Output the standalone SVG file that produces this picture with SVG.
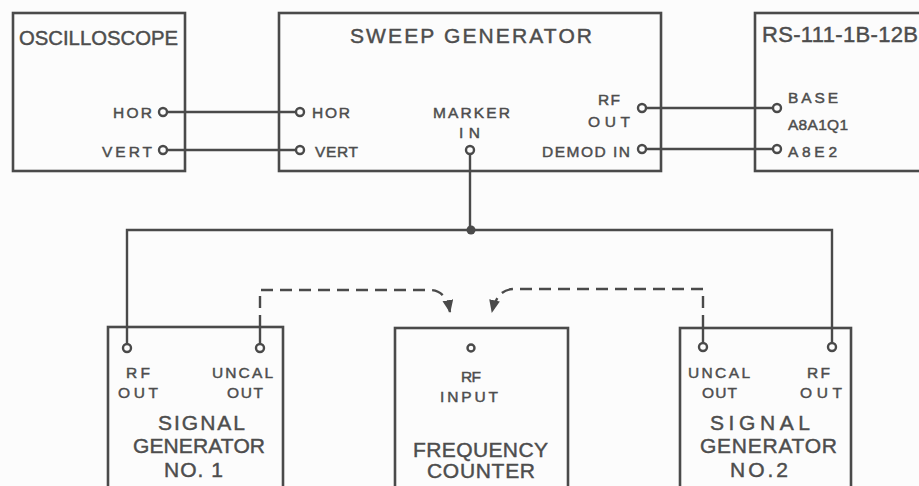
<svg xmlns="http://www.w3.org/2000/svg" width="919" height="486" viewBox="0 0 919 486">
<style>
.box{fill:none;stroke:#4a4a4a;stroke-width:2.6}
.w{fill:none;stroke:#4a4a4a;stroke-width:2.4}
.d{fill:none;stroke:#4a4a4a;stroke-width:2.4;stroke-dasharray:12 7}
.j{fill:#fdfdfd;stroke:#4a4a4a;stroke-width:2.4}
text{font-family:"Liberation Sans",Arial,sans-serif;fill:#4d4d4d;stroke:#4d4d4d;stroke-width:0.45}
.s{font-size:15.5px}
.l{font-size:21px}
</style>
<defs>
<marker id="ah" viewBox="0 0 12 10" refX="11" refY="5" markerWidth="13" markerHeight="11" markerUnits="userSpaceOnUse" orient="auto">
<path d="M0,0 L12,5 L0,10 z" fill="#4a4a4a"/>
</marker>
</defs>
<rect width="919" height="486" fill="#fcfcfc"/>
<g id="connectors">
<path class="w" d="M167,112 H296"/>
<path class="w" d="M167,150 H296"/>
<path class="w" d="M646,108 H773"/>
<path class="w" d="M646,149 H773"/>
<path class="w" d="M470,154 V230"/>
<path class="w" d="M127,344 V230 H832 V343"/>
<circle cx="471" cy="230" r="4.5" fill="#4a4a4a"/>
<path class="d" d="M260,327 V290 H430 Q446,290 450,312" marker-end="url(#ah)"/>
<path class="d" d="M703,327 V289 H514 Q497,289 492,312" marker-end="url(#ah)"/>
</g>
<g id="oscilloscope">
<rect class="box" x="13" y="13" width="172" height="158"/>
<text x="19" y="45" textLength="159" lengthAdjust="spacingAndGlyphs" style="font-size:20px">OSCILLOSCOPE</text>
<text class="s" x="113" y="118" textLength="39">HOR</text>
<text class="s" x="102" y="157" textLength="50">VERT</text>
<circle class="j" cx="163" cy="112" r="4"/>
<circle class="j" cx="163" cy="150" r="4"/>
</g>
<g id="sweep-generator">
<rect class="box" x="279" y="13" width="382" height="158"/>
<text class="l" x="350" y="43" textLength="242">SWEEP GENERATOR</text>
<text class="s" x="312" y="118" textLength="38">HOR</text>
<text class="s" x="315" y="157" textLength="43">VERT</text>
<text class="s" x="433" y="118" textLength="77">MARKER</text>
<text class="s" x="459" y="138" textLength="21">IN</text>
<text class="s" x="598" y="105" textLength="22">RF</text>
<text class="s" x="588" y="127" textLength="42">OUT</text>
<text class="s" x="542" y="157" textLength="88">DEMOD IN</text>
<circle class="j" cx="300" cy="112" r="4"/>
<circle class="j" cx="300" cy="150" r="4"/>
<circle class="j" cx="470" cy="150" r="4"/>
<circle class="j" cx="642" cy="108" r="4"/>
<circle class="j" cx="642" cy="149" r="4"/>
</g>
<g id="rs-111-1b-12b">
<rect class="box" x="755" y="13" width="180" height="158"/>
<text x="762" y="42" textLength="156" style="font-size:22px">RS-111-1B-12B</text>
<text class="s" x="788" y="103" textLength="50">BASE</text>
<text class="s" x="788" y="130" textLength="60">A8A1Q1</text>
<text class="s" x="788" y="157" textLength="49">A8E2</text>
<circle class="j" cx="777" cy="108" r="4"/>
<circle class="j" cx="777" cy="149" r="4"/>
</g>
<g id="signal-generator-1">
<rect class="box" x="108" y="327" width="175" height="170"/>
<circle class="j" cx="127" cy="348" r="4"/>
<circle class="j" cx="260" cy="348" r="4"/>
<path class="w" d="M260,327 V344"/>
<text class="s" x="126" y="378" textLength="24">RF</text>
<text class="s" x="118" y="398" textLength="40">OUT</text>
<text class="s" x="212" y="378" textLength="61">UNCAL</text>
<text class="s" x="227" y="398" textLength="36">OUT</text>
<text class="l" x="158" y="430" textLength="87">SIGNAL</text>
<text class="l" x="133" y="453" textLength="132">GENERATOR</text>
<text class="l" x="164" y="477" textLength="59">NO. 1</text>
</g>
<g id="frequency-counter">
<rect class="box" x="395" y="328" width="173" height="170"/>
<circle class="j" cx="471" cy="348" r="3.5"/>
<text class="s" x="461" y="382" textLength="20">RF</text>
<text class="s" x="440" y="402" textLength="58">INPUT</text>
<text class="l" x="413" y="457" textLength="135">FREQUENCY</text>
<text class="l" x="427" y="478" textLength="108">COUNTER</text>
</g>
<g id="signal-generator-2">
<rect class="box" x="680" y="328" width="171" height="170"/>
<circle class="j" cx="703" cy="347" r="4"/>
<circle class="j" cx="832" cy="347" r="4"/>
<path class="w" d="M703,327 V343"/>
<text class="s" x="688" y="378" textLength="62">UNCAL</text>
<text class="s" x="702" y="398" textLength="35">OUT</text>
<text class="s" x="807" y="378" textLength="23">RF</text>
<text class="s" x="800" y="398" textLength="42">OUT</text>
<text class="l" x="710" y="430" textLength="100">SIGNAL</text>
<text class="l" x="700" y="453" textLength="137">GENERATOR</text>
<text class="l" x="730" y="477" textLength="58">NO.2</text>
</g>
</svg>
